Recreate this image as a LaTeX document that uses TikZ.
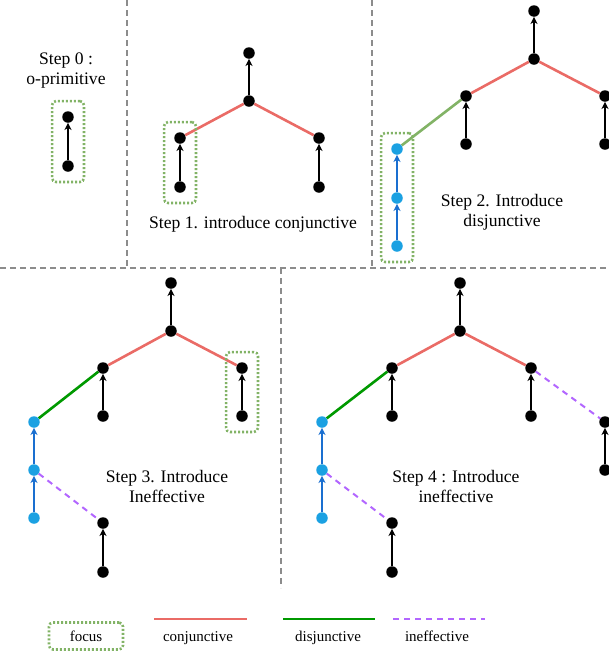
\documentclass[tikz,border=0pt]{standalone}
\usepackage{fontspec}
\setmainfont{Liberation Serif}
\usetikzlibrary{arrows.meta,fit}
\definecolor{conj}{HTML}{EA6B66}
\definecolor{disjlight}{HTML}{82B366}
\definecolor{disj}{HTML}{009900}
\definecolor{ineff}{HTML}{B266FF}
\definecolor{focusc}{HTML}{82B366}
\definecolor{bluefill}{HTML}{1BA1E2}
\definecolor{blueline}{HTML}{1A6FD0}
\definecolor{divc}{HTML}{8C8C8C}
\begin{document}
\begin{tikzpicture}[x=1pt,y=-1pt,
  dot/.style={circle,fill=black,inner sep=0pt,minimum size=11.5pt},
  bdot/.style={circle,fill=bluefill,inner sep=0pt,minimum size=11.5pt},
  arr/.style={draw=black,line width=2pt,-{Stealth[length=7pt,width=7pt,inset=2pt]}},
  barr/.style={arr,draw=blueline,-{Stealth[length=7pt,width=7pt,inset=2pt,color=blueline]}},
  conjl/.style={draw=conj,line width=2.6pt},
  disjl/.style={draw=disj,line width=2.6pt},
  disjll/.style={draw=disjlight,line width=2.6pt},
  ineffl/.style={draw=ineff,line width=2pt,dash pattern=on 6pt off 5pt},
  divl/.style={draw=divc,line width=2pt,dash pattern=on 6pt off 4pt},
  focusbox/.style={draw=focusc,line width=2.6pt,dash pattern=on 2pt off 2pt,rounded corners=4pt,inner xsep=10pt,inner ysep=10pt},
  lab/.style={font=\fontsize{17.6}{20}\selectfont,align=center,inner sep=0pt},
  leg/.style={font=\fontsize{15}{18}\selectfont,inner sep=0pt,anchor=base}
]
\useasboundingbox (0,0) rectangle (609,654);
% dividers
\coordinate (d1a) at (127,0); \coordinate (d1b) at (127,268);
\coordinate (d2a) at (372,0); \coordinate (d2b) at (372,268);
\coordinate (d3a) at (0,268); \coordinate (d3b) at (609,268);
\coordinate (d4a) at (281,268); \coordinate (d4b) at (281,588);
\draw[divl] (d1a) -- (d1b);
\draw[divl] (d2a) -- (d2b);
\draw[divl] (d3a) -- (d3b);
\draw[divl] (d4a) -- (d4b);

% Step 0
\node[lab] (l0) at (66,71) {Step 0 :\\o-primitive};
\node[dot] (s0a) at (68,117) {};
\node[dot] (s0b) at (68,166) {};
\draw[arr] (s0b) -- (s0a);
\node[focusbox,fit=(s0a)(s0b)] (f0) {};

% Step 1
\node[dot] (s1t) at (249,53) {};
\node[dot] (s1m) at (249,101) {};
\node[dot] (s1lu) at (180,138) {};
\node[dot] (s1ll) at (180,187) {};
\node[dot] (s1ru) at (319,138) {};
\node[dot] (s1rl) at (319,187) {};
\draw[arr] (s1m) -- (s1t);
\draw[arr] (s1ll) -- (s1lu);
\draw[arr] (s1rl) -- (s1ru);
\draw[conjl] (s1m) -- (s1lu);
\draw[conjl] (s1m) -- (s1ru);
\node[focusbox,fit=(s1lu)(s1ll)] (f1) {};
\node[lab] (l1) at (253,224) {Step 1. introduce conjunctive};

% Step 2
\node[dot] (s2t) at (534,11) {};
\node[dot] (s2m) at (534,59) {};
\node[dot] (s2lu) at (466,96) {};
\node[dot] (s2ll) at (466,144) {};
\node[dot] (s2ru) at (605,96) {};
\node[dot] (s2rl) at (605,144) {};
\node[bdot] (s2b1) at (397,149) {};
\node[bdot] (s2b2) at (397,198) {};
\node[bdot] (s2b3) at (397,246) {};
\draw[arr] (s2m) -- (s2t);
\draw[arr] (s2ll) -- (s2lu);
\draw[arr] (s2rl) -- (s2ru);
\draw[conjl] (s2m) -- (s2lu);
\draw[conjl] (s2m) -- (s2ru);
\draw[disjll] (s2b1) -- (s2lu);
\draw[barr] (s2b2) -- (s2b1);
\draw[barr] (s2b3) -- (s2b2);
\node[focusbox,fit=(s2b1)(s2b3)] (f2) {};
\node[lab] (l2) at (502,212) {Step 2. Introduce\\disjunctive};

% Step 3
\node[dot] (s3t) at (171,283) {};
\node[dot] (s3m) at (171,331) {};
\node[dot] (s3lu) at (103,368) {};
\node[dot] (s3ll) at (103,416) {};
\node[dot] (s3ru) at (242,368) {};
\node[dot] (s3rl) at (242,416) {};
\node[bdot] (s3b1) at (34,422) {};
\node[bdot] (s3b2) at (34,470) {};
\node[bdot] (s3b3) at (34,518) {};
\node[dot] (s3iu) at (103,523) {};
\node[dot] (s3il) at (103,572) {};
\draw[arr] (s3m) -- (s3t);
\draw[arr] (s3ll) -- (s3lu);
\draw[arr] (s3rl) -- (s3ru);
\draw[conjl] (s3m) -- (s3lu);
\draw[conjl] (s3m) -- (s3ru);
\draw[disjl] (s3b1) -- (s3lu);
\draw[barr] (s3b2) -- (s3b1);
\draw[barr] (s3b3) -- (s3b2);
\draw[ineffl] (s3b2) -- (s3iu);
\draw[arr] (s3il) -- (s3iu);
\node[focusbox,fit=(s3ru)(s3rl)] (f3) {};
\node[lab] (l3) at (167,486) {Step 3. Introduce\\Ineffective};

% Step 4
\node[dot] (s4t) at (460,283) {};
\node[dot] (s4m) at (460,331) {};
\node[dot] (s4lu) at (392,368) {};
\node[dot] (s4ll) at (392,416) {};
\node[dot] (s4ru) at (531,368) {};
\node[dot] (s4rl) at (531,416) {};
\node[dot] (s4xu) at (605,422) {};
\node[dot] (s4xl) at (605,470) {};
\node[bdot] (s4b1) at (322,422) {};
\node[bdot] (s4b2) at (322,470) {};
\node[bdot] (s4b3) at (322,518) {};
\node[dot] (s4iu) at (392,523) {};
\node[dot] (s4il) at (392,572) {};
\draw[arr] (s4m) -- (s4t);
\draw[arr] (s4ll) -- (s4lu);
\draw[arr] (s4rl) -- (s4ru);
\draw[arr] (s4xl) -- (s4xu);
\draw[conjl] (s4m) -- (s4lu);
\draw[conjl] (s4m) -- (s4ru);
\draw[ineffl] (s4ru) -- (s4xu);
\draw[disjl] (s4b1) -- (s4lu);
\draw[barr] (s4b2) -- (s4b1);
\draw[barr] (s4b3) -- (s4b2);
\draw[ineffl] (s4b2) -- (s4iu);
\draw[arr] (s4il) -- (s4iu);
\node[lab] (l4) at (456,486) {Step 4 : Introduce\\ineffective};

% Legend
\node[draw=focusc,line width=2.6pt,dash pattern=on 2pt off 2pt,rounded corners=4pt,minimum width=74pt,minimum height=27pt] (lf) at (86,636) {};
\node[leg] (lft) at (86,641) {focus};
\coordinate (lc1) at (154,619); \coordinate (lc2) at (247,619);
\draw[conjl] (lc1) -- (lc2);
\node[leg] (lct) at (198,641) {conjunctive};
\coordinate (ld1) at (283,619); \coordinate (ld2) at (375,619);
\draw[disjl] (ld1) -- (ld2);
\node[leg] (ldt) at (328,641) {disjunctive};
\coordinate (li1) at (393,619); \coordinate (li2) at (485,619);
\draw[ineffl] (li1) -- (li2);
\node[leg] (lit) at (437,641) {ineffective};
\end{tikzpicture}
\end{document}
